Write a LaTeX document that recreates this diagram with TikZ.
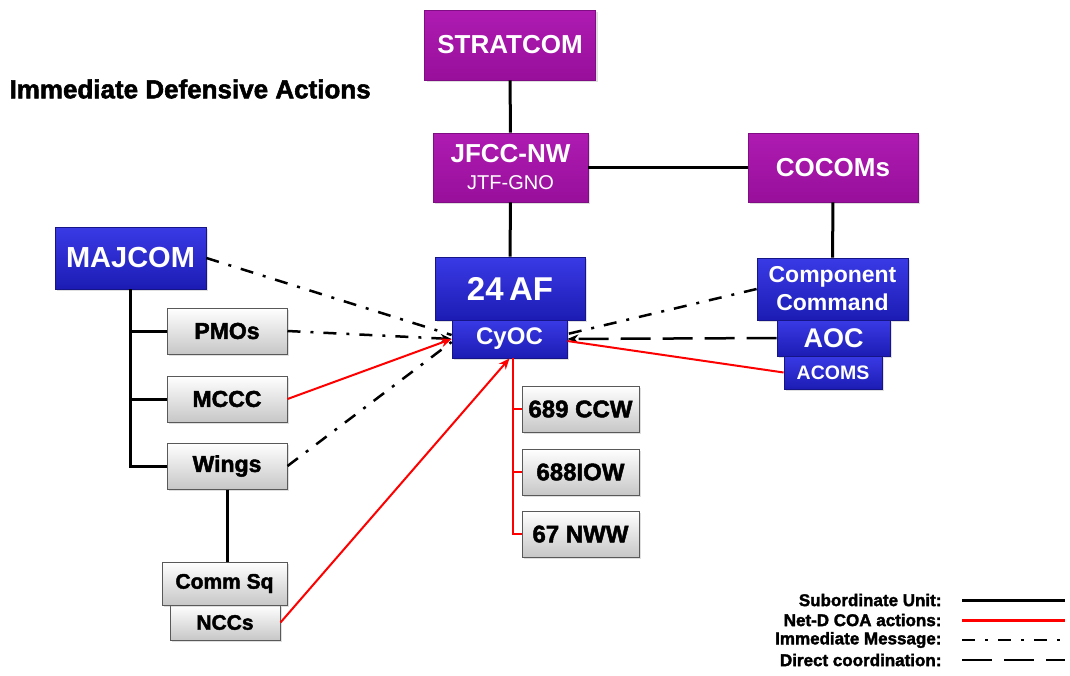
\documentclass[tikz,border=0pt]{standalone}
\usepackage{fontspec}
\setmainfont{Liberation Sans}
\newfontfamily\heavyfont{Liberation Sans}[BoldFeatures={FakeBold=2}]
\usetikzlibrary{arrows.meta,shadows}
\definecolor{purpT}{HTML}{AE1BB1}
\definecolor{purpB}{HTML}{980F9B}
\definecolor{bluT}{HTML}{3A3AE6}
\definecolor{bluB}{HTML}{1C1CB4}
\newcommand{\fs}[1]{\fontsize{#1}{#1}\selectfont}
\begin{document}
\begin{tikzpicture}[x=1pt,y=-1pt,
		box/.style={rectangle, inner sep=0pt, align=center, font=\bfseries,
			drop shadow={shadow xshift=2pt, shadow yshift=-2pt, opacity=0.25}},
		purplebox/.style={box, top color=purpT, bottom color=purpB, draw=purpB!85!black, line width=0.8pt, text=white},
		bluebox/.style={box, top color=bluT, bottom color=bluB, draw=bluB!75!black, line width=0.8pt, text=white},
		graybox/.style={box, top color=white, bottom color=black!22, draw=black!65, line width=1pt, text=black},
		sub/.style={line width=3pt},
		netd/.style={red, line width=2pt},
		immed/.style={line width=2.5pt, dash pattern=on 13pt off 10pt on 3pt off 10pt},
		direct/.style={line width=2.5pt, dash pattern=on 30pt off 12pt},
		>={Stealth[length=11pt,width=9pt]}]
	\useasboundingbox (0,0) rectangle (1070,675);
	
	\node[anchor=west, font=\heavyfont\bfseries\fs{26}] (title) at (6,89) {Immediate Defensive Actions};
	
	% command chain
	\node[purplebox, minimum width=171pt, minimum height=70pt, font=\bfseries\fs{26}] (stratcom) at (510,45) {STRATCOM};
	\node[purplebox, minimum width=155pt, minimum height=69pt, font=\bfseries\fs{26}] (jfcc) at (510.5,167.5) {JFCC-NW\\[1pt]{\mdseries\fs{20}JTF-GNO}};
	\node[purplebox, minimum width=170pt, minimum height=69pt, font=\bfseries\fs{26}] (cocoms) at (833,167.5) {COCOMs};
	\node[bluebox, minimum width=150pt, minimum height=63pt, font=\bfseries\fs{33}] (af) at (510,288.5) {24\,AF};
	\node[bluebox, minimum width=115pt, minimum height=38pt, font=\bfseries\fs{24}] (cyoc) at (509.5,339) {CyOC};
	\node[bluebox, minimum width=151pt, minimum height=62pt, font=\bfseries\fontsize{23}{28}\selectfont] (comp) at (832.5,289) {Component\\Command};
	\node[bluebox, minimum width=113pt, minimum height=36pt, font=\bfseries\fs{27}] (aoc) at (833.5,338) {AOC};
	\node[bluebox, minimum width=98pt, minimum height=33pt, font=\bfseries\fs{19.5}] (acoms) at (833,372.5) {ACOMS};
	
	% MAJCOM side
	\node[bluebox, minimum width=151pt, minimum height=62pt, font=\bfseries\fs{29}] (majcom) at (130.5,258) {MAJCOM};
	\node[graybox, minimum width=120pt, minimum height=46pt, font=\heavyfont\bfseries\fs{23}] (pmos) at (227,331) {PMOs};
	\node[graybox, minimum width=120pt, minimum height=46pt, font=\heavyfont\bfseries\fs{23}] (mccc) at (227,399) {MCCC};
	\node[graybox, minimum width=120pt, minimum height=46pt, font=\heavyfont\bfseries\fs{23}] (wings) at (227,466) {Wings};
	\node[graybox, minimum width=110pt, minimum height=35pt, font=\heavyfont\bfseries\fs{21}] (nccs) at (225,622.5) {NCCs};
	\node[graybox, minimum width=125pt, minimum height=43pt, font=\heavyfont\bfseries\fs{21}] (commsq) at (224.5,583.5) {Comm Sq};
	
	% wings under 24 AF
	\node[graybox, minimum width=117pt, minimum height=46pt, font=\heavyfont\bfseries\fs{24}] (ccw) at (580.5,409) {689 CCW};
	\node[graybox, minimum width=117pt, minimum height=46pt, font=\heavyfont\bfseries\fs{24}] (iow) at (580.5,472) {688IOW};
	\node[graybox, minimum width=117pt, minimum height=46pt, font=\heavyfont\bfseries\fs{24}] (nww) at (580.5,534) {67 NWW};
	
	% subordinate units
	\draw[sub] (stratcom) -- (jfcc);
	\draw[sub] (jfcc) -- (cocoms);
	\draw[sub] (jfcc) -- (af);
	\draw[sub] (cocoms) -- (comp);
	\draw[sub] (majcom.south) -- (majcom.south |- wings.west) -- (wings.west);
	\draw[sub] (majcom.south |- pmos.west) -- (pmos.west);
	\draw[sub] (majcom.south |- mccc.west) -- (mccc.west);
	\draw[sub] (wings.south) -- (wings.south |- commsq.north);
	
	% immediate messages
	\draw[immed] (majcom.east) -- ([yshift=4pt]cyoc.west);
	\draw[immed,->] (pmos.east) -- (cyoc.west);
	\draw[immed] (wings.east) -- ([yshift=-3pt]cyoc.west);
	\draw[immed] (comp.west) -- ([yshift=5pt]cyoc.east);
	
	% direct coordination
	\draw[direct,->] (aoc.west) -- (cyoc.east);
	
	% Net-D COA actions
	\draw[netd,->] (mccc.east) -- (cyoc.west);
	\draw[netd,->] (nccs.east) -- (cyoc.south);
	\draw[netd] ([yshift=-2pt]cyoc.east) -- (acoms.west);
	\draw[netd] ([xshift=3pt]cyoc.south) |- (nww.west);
	\draw[netd] ([xshift=3pt]cyoc.south) |- (ccw.west);
	\draw[netd] ([xshift=3pt]cyoc.south) |- (iow.west);
	
	% legend
	\node[anchor=east, font=\heavyfont\bfseries\fs{17}] (lsub) at (945,600) {Subordinate Unit:};
	\node[anchor=east, font=\heavyfont\bfseries\fs{17}] (lnetd) at (945,620) {Net-D COA actions:};
	\node[anchor=east, font=\heavyfont\bfseries\fs{17}] (limmed) at (945,640) {Immediate Message:};
	\node[anchor=east, font=\heavyfont\bfseries\fs{17}] (ldirect) at (945,660) {Direct coordination:};
	\draw[sub] ([xshift=17pt]lsub.east) -- ++(103,0);
	\draw[netd, line width=3pt] ([xshift=17pt]lnetd.east) -- ++(103,0);
	\draw[immed] ([xshift=17pt]limmed.east) -- ++(103,0);
	\draw[direct] ([xshift=17pt]ldirect.east) -- ++(103,0);
\end{tikzpicture}
\end{document}
